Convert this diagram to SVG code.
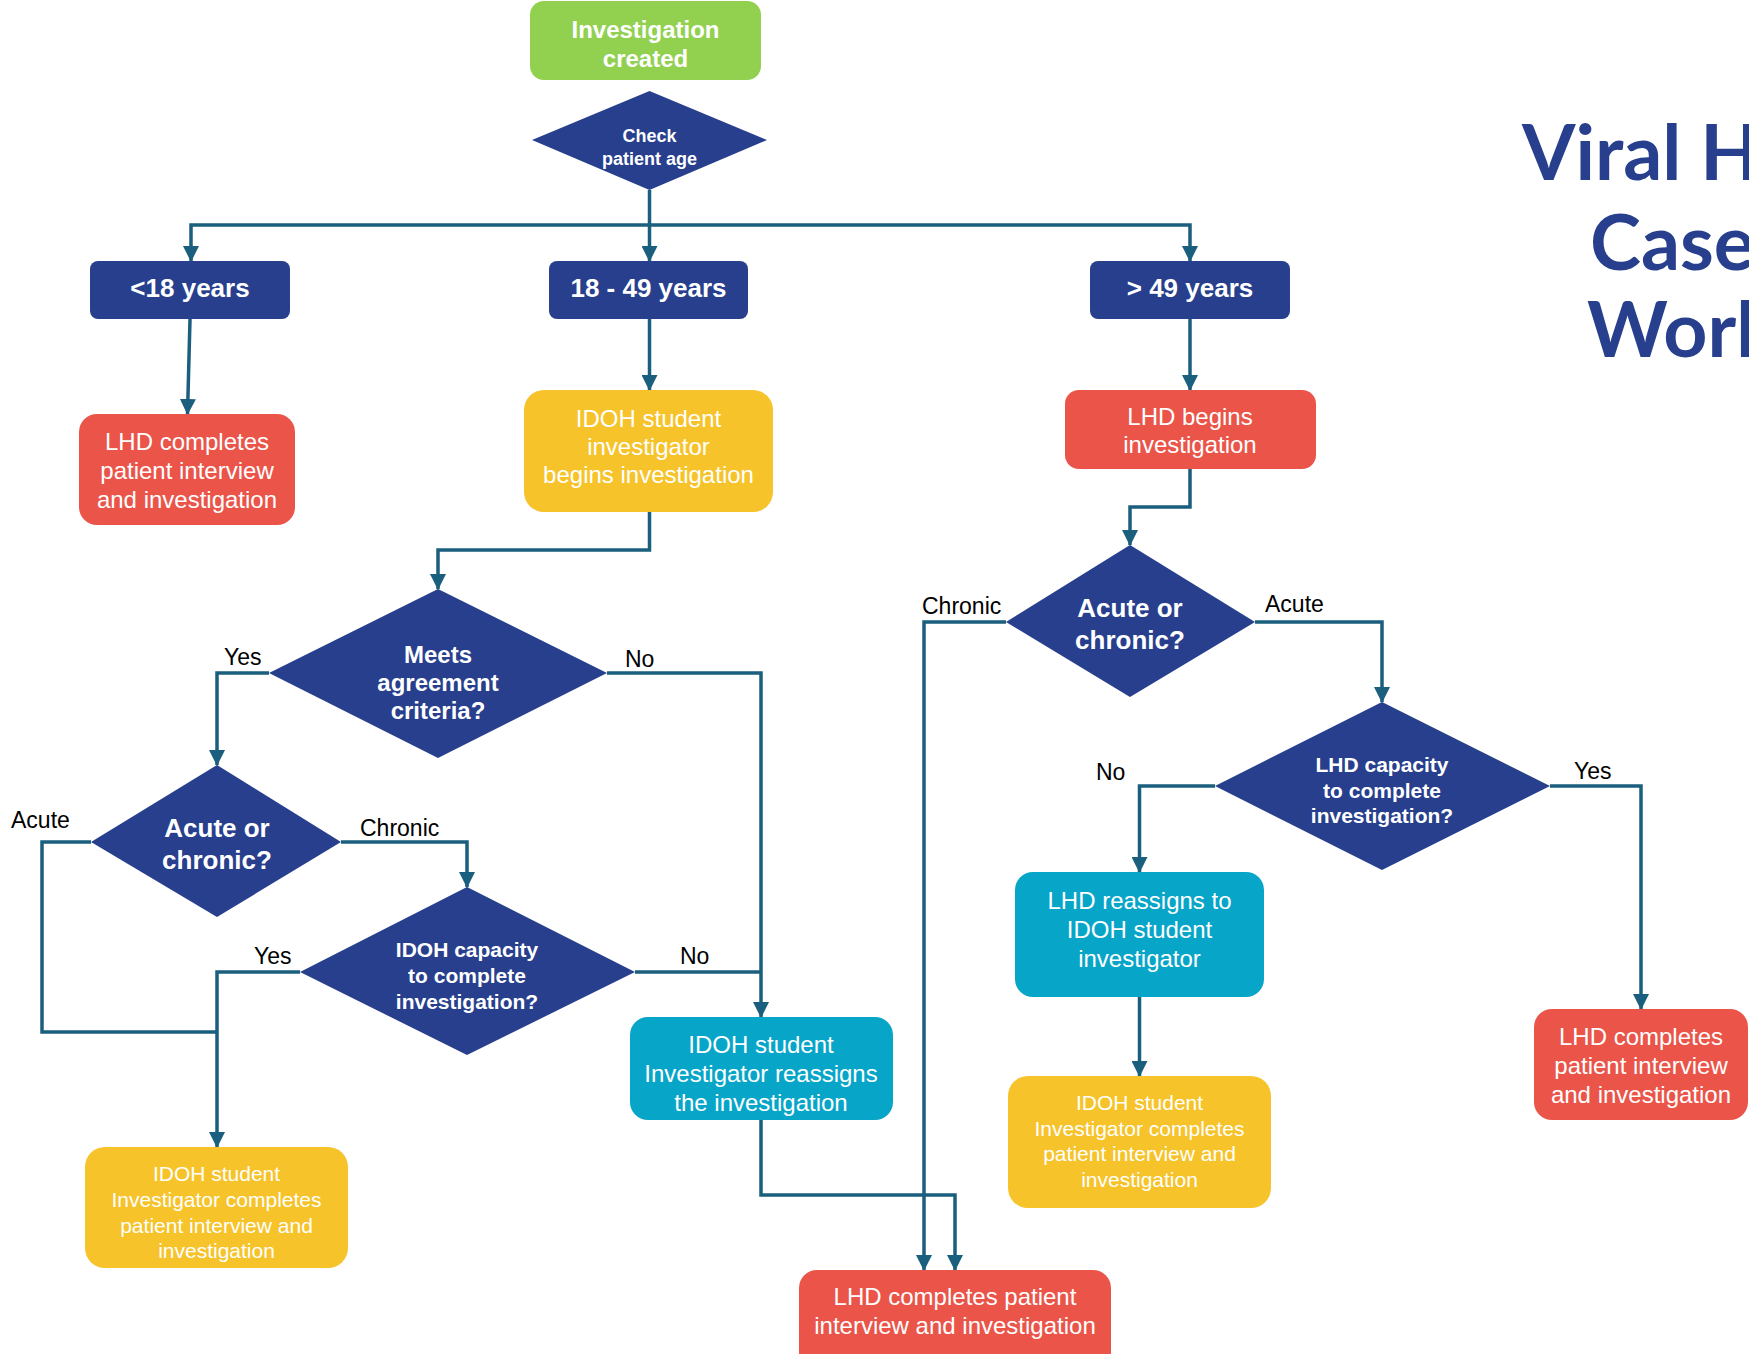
<svg xmlns="http://www.w3.org/2000/svg" width="1749" height="1354" viewBox="0 0 1749 1354">
<style>
.c{fill:none;stroke:#1B5F7E;stroke-width:3.5}
.a{marker-end:url(#ah)}
.db{fill:#273F8D}
.red{fill:#EA5449}
.yel{fill:#F6C32A}
.cy{fill:#07A5C8}
.grn{fill:#92D050}
text{font-family:"Liberation Sans",Arial,sans-serif;fill:#fff;text-anchor:middle}
.b{font-weight:bold}
.t24{font-size:24px}
.t21{font-size:21px}
.lbl{fill:#000;font-size:23px;text-anchor:start}
.title{font-family:Lato,"Liberation Sans",sans-serif;font-weight:bold;font-size:77px;fill:#273F8D;text-anchor:start}
</style>
<defs>
<marker id="ah" markerUnits="userSpaceOnUse" markerWidth="16" markerHeight="16" viewBox="0 0 16 16" refX="15" refY="8" orient="auto">
<path d="M0,0 L16,8 L0,16 z" fill="#1B5F7E"/>
</marker>
</defs>
<rect width="1749" height="1354" fill="#fff"/>

<g id="title">
<text class="title" x="1522" y="180">Viral Hepatitis</text>
<text class="title" x="1590" y="270">Case</text>
<text class="title" x="1587" y="357">Workflow</text>
</g>

<g id="connectors">
<path class="c" d="M649.5,190 V225"/>
<path class="c a" d="M649.5,225 H191 V261"/>
<path class="c a" d="M649.5,225 V261"/>
<path class="c a" d="M649.5,225 H1190 V261"/>
<path class="c a" d="M190,319 L187.5,414"/>
<path class="c a" d="M649.5,319 V390"/>
<path class="c a" d="M1190,319 V390"/>
<path class="c a" d="M1190,469 V507 H1130 V545"/>
<path class="c a" d="M649.5,512 V550 H438 V589"/>
<path class="c a" d="M269,673 H217 V765"/>
<path class="c a" d="M607,673 H761 V1017"/>
<path class="c" d="M91,842 H42 V1032 H217"/>
<path class="c a" d="M341,842 H467 V887"/>
<path class="c a" d="M300,972 H217 V1147"/>
<path class="c" d="M635,972 H761"/>
<path class="c a" d="M761,1120 V1195 H955 V1270"/>
<path class="c a" d="M1006,622 H924 V1270"/>
<path class="c a" d="M1255,622 H1382 V702"/>
<path class="c a" d="M1215,786 H1139.5 V872"/>
<path class="c a" d="M1550,786 H1641 V1009"/>
<path class="c a" d="M1139.5,997 V1076"/>
</g>

<g id="labels">
<text class="lbl" x="224" y="665">Yes</text>
<text class="lbl" x="625" y="667">No</text>
<text class="lbl" x="11" y="828">Acute</text>
<text class="lbl" x="360" y="836">Chronic</text>
<text class="lbl" x="254" y="964">Yes</text>
<text class="lbl" x="680" y="964">No</text>
<text class="lbl" x="922" y="614">Chronic</text>
<text class="lbl" x="1265" y="612">Acute</text>
<text class="lbl" x="1096" y="780">No</text>
<text class="lbl" x="1574" y="779">Yes</text>
</g>

<g id="n-created">
<rect class="grn" x="530" y="1" width="231" height="79" rx="14"/>
<text class="b t24" x="645.5" y="38">Investigation</text>
<text class="b t24" x="645.5" y="67">created</text>
</g>

<g id="n-check">
<polygon class="db" points="649.5,91 767,140 649.5,190 532,140"/>
<text class="b" font-size="18" x="649.5" y="142">Check</text>
<text class="b" font-size="18" x="649.5" y="165">patient age</text>
</g>

<g id="n-lt18">
<rect class="db" x="90" y="261" width="200" height="58" rx="8"/>
<text class="b" font-size="26" x="190" y="297">&lt;18 years</text>
</g>

<g id="n-18to49">
<rect class="db" x="549" y="261" width="199" height="58" rx="8"/>
<text class="b" font-size="26" x="648.5" y="297">18 - 49 years</text>
</g>

<g id="n-gt49">
<rect class="db" x="1090" y="261" width="200" height="58" rx="8"/>
<text class="b" font-size="26" x="1190" y="297">&gt; 49 years</text>
</g>

<g id="n-lhd-complete-1">
<rect class="red" x="79" y="414" width="216" height="111" rx="18"/>
<text class="t24" x="187" y="450">LHD completes</text>
<text class="t24" x="187" y="479">patient interview</text>
<text class="t24" x="187" y="508">and investigation</text>
</g>

<g id="n-idoh-begins">
<rect class="yel" x="524" y="390" width="249" height="122" rx="20"/>
<text class="t24" x="648.5" y="427">IDOH student</text>
<text class="t24" x="648.5" y="455">investigator</text>
<text class="t24" x="648.5" y="483">begins investigation</text>
</g>

<g id="n-lhd-begins">
<rect class="red" x="1065" y="390" width="251" height="79" rx="14"/>
<text class="t24" x="1190" y="425">LHD begins</text>
<text class="t24" x="1190" y="453">investigation</text>
</g>

<g id="n-meets">
<polygon class="db" points="438,589 607,673 438,758 269,673"/>
<text class="b t24" x="438" y="663">Meets</text>
<text class="b t24" x="438" y="691">agreement</text>
<text class="b t24" x="438" y="719">criteria?</text>
</g>

<g id="n-acute-left">
<polygon class="db" points="217,765 341,842 217,917 91,842"/>
<text class="b" font-size="26" x="217" y="837">Acute or</text>
<text class="b" font-size="26" x="217" y="869">chronic?</text>
</g>

<g id="n-idoh-capacity">
<polygon class="db" points="467,887 635,972 467,1055 300,972"/>
<text class="b t21" x="467" y="957">IDOH capacity</text>
<text class="b t21" x="467" y="983">to complete</text>
<text class="b t21" x="467" y="1009">investigation?</text>
</g>

<g id="n-idoh-reassigns">
<rect class="cy" x="630" y="1017" width="263" height="103" rx="18"/>
<text class="t24" x="761" y="1053">IDOH student</text>
<text class="t24" x="761" y="1082">Investigator reassigns</text>
<text class="t24" x="761" y="1111">the investigation</text>
</g>

<g id="n-idoh-complete-left">
<rect class="yel" x="85" y="1147" width="263" height="121" rx="20"/>
<text class="t21" x="216.5" y="1181">IDOH student</text>
<text class="t21" x="216.5" y="1207">Investigator completes</text>
<text class="t21" x="216.5" y="1233">patient interview and</text>
<text class="t21" x="216.5" y="1258">investigation</text>
</g>

<g id="n-acute-right">
<polygon class="db" points="1130,545 1255,622 1130,697 1006,622"/>
<text class="b" font-size="26" x="1130" y="617">Acute or</text>
<text class="b" font-size="26" x="1130" y="649">chronic?</text>
</g>

<g id="n-lhd-capacity">
<polygon class="db" points="1382,702 1550,786 1382,870 1215,786"/>
<text class="b t21" x="1382" y="772">LHD capacity</text>
<text class="b t21" x="1382" y="798">to complete</text>
<text class="b t21" x="1382" y="823">investigation?</text>
</g>

<g id="n-lhd-reassigns">
<rect class="cy" x="1015" y="872" width="249" height="125" rx="18"/>
<text class="t24" x="1139.5" y="909">LHD reassigns to</text>
<text class="t24" x="1139.5" y="938">IDOH student</text>
<text class="t24" x="1139.5" y="967">investigator</text>
</g>

<g id="n-idoh-complete-right">
<rect class="yel" x="1008" y="1076" width="263" height="132" rx="20"/>
<text class="t21" x="1139.5" y="1110">IDOH student</text>
<text class="t21" x="1139.5" y="1136">Investigator completes</text>
<text class="t21" x="1139.5" y="1161">patient interview and</text>
<text class="t21" x="1139.5" y="1187">investigation</text>
</g>

<g id="n-lhd-complete-right">
<rect class="red" x="1534" y="1009" width="214" height="111" rx="18"/>
<text class="t24" x="1641" y="1045">LHD completes</text>
<text class="t24" x="1641" y="1074">patient interview</text>
<text class="t24" x="1641" y="1103">and investigation</text>
</g>

<g id="n-lhd-complete-bottom">
<rect class="red" x="799" y="1270" width="312" height="110" rx="18"/>
<text class="t24" x="955" y="1305">LHD completes patient</text>
<text class="t24" x="955" y="1334">interview and investigation</text>
</g>
</svg>
